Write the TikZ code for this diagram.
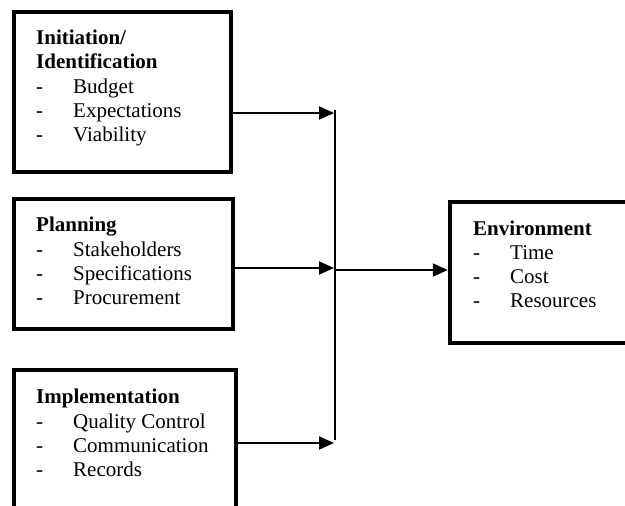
\documentclass[tikz,border=0pt]{standalone}
\usepackage{fontspec}
\setmainfont{Liberation Serif}
\usetikzlibrary{arrows.meta}
\begin{document}
\begin{tikzpicture}[x=1pt,y=-1pt,
  phase/.style={draw,line width=4.5pt,minimum width=#1,inner sep=0pt},
  ttl/.style={anchor=base west,inner sep=0pt,font=\fontsize{21}{24}\selectfont\bfseries},
  itm/.style={anchor=base west,inner sep=0pt,font=\fontsize{21}{24}\selectfont},
  flow/.style={line width=2pt,-{Triangle[length=15pt,width=13pt]}}]
\useasboundingbox (0,0) rectangle (625,506);

% phase boxes
\node[phase=217pt,minimum height=160pt] (b1) at (122.5,92) {};
\node[phase=219pt,minimum height=130pt] (b2) at (123.5,264) {};
\node[phase=222pt,minimum height=170pt] (b3) at (125,455) {};
\node[phase=190pt,minimum height=141pt] (env) at (545,272.5) {};

% box texts
\newcommand{\dashitem}[1]{\makebox[37pt][l]{-}#1}
\node[ttl] (t1) at (36,45) {Initiation/};
\node[ttl] (t1b) at (36,68) {Identification};
\node[itm] (t1c) at (36,93) {\dashitem{Budget}};
\node[itm] (t1d) at (36,117) {\dashitem{Expectations}};
\node[itm] (t1e) at (36,141) {\dashitem{Viability}};

\node[ttl] (t2) at (36,231) {Planning};
\node[itm] (t2b) at (36,256) {\dashitem{Stakeholders}};
\node[itm] (t2c) at (36,280) {\dashitem{Specifications}};
\node[itm] (t2d) at (36,304) {\dashitem{Procurement}};

\node[ttl] (t3) at (36,403) {Implementation};
\node[itm] (t3b) at (36,428) {\dashitem{Quality Control}};
\node[itm] (t3c) at (36,452) {\dashitem{Communication}};
\node[itm] (t3d) at (36,476) {\dashitem{Records}};

\node[ttl] (t4) at (473,235) {Environment};
\node[itm] (t4b) at (473,259) {\dashitem{Time}};
\node[itm] (t4c) at (473,283) {\dashitem{Cost}};
\node[itm] (t4d) at (473,307) {\dashitem{Resources}};

% collecting line and junctions
\coordinate (vtop) at (335,110);
\coordinate (vbot) at (335,440);
\coordinate (j1) at (334,113);
\coordinate (j2) at (334,268);
\coordinate (j3) at (334,443);
\coordinate (jo) at (335,270);
\draw[line width=2pt] (vtop) -- (vbot);

% connectors
\draw[flow] (b1.east |- j1) -- (j1);
\draw[flow] (b2.east |- j2) -- (j2);
\draw[flow] (b3.east |- j3) -- (j3);
\draw[flow] (jo) -- (env.west |- jo);
\end{tikzpicture}
\end{document}
